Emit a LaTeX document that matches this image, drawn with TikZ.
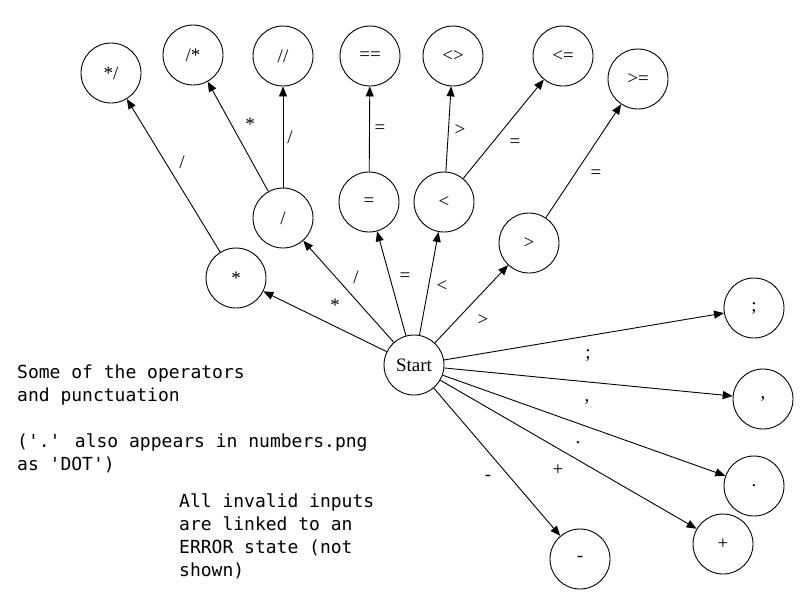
\documentclass[tikz,border=0pt]{standalone}
\usepackage{fontspec}
\setmainfont{Liberation Serif}
\newfontfamily\monofnt{DejaVu Sans Mono}
\usetikzlibrary{arrows.meta}
\begin{document}
\begin{tikzpicture}[x=1pt,y=-1pt,
  state/.style={circle,draw,line width=0.9pt,minimum size=60pt,inner sep=0pt,font=\fontsize{19}{19}\selectfont},
  edge/.style={draw,line width=0.9pt,-{Triangle[length=10pt,width=8pt]}},
  lbl/.style={font=\fontsize{19}{19}\selectfont,inner sep=0pt},
  note/.style={font=\monofnt\fontsize{18}{23}\selectfont,anchor=base west,inner sep=0pt}]
\useasboundingbox (0,0) rectangle (800,600);
% states
\node[state] (start) at (414,365) {Start};
\node[state] (star) at (236,278) {*};
\node[state] (slash) at (283,218) {/};
\node[state] (eq) at (369,202) {=};
\node[state] (lt) at (444,202) {<};
\node[state] (gt) at (529,243) {>};
\node[state] (cmtend) at (111,73) {*/};
\node[state] (cmtbeg) at (193,55) {/*};
\node[state] (dslash) at (283,56) {//};
\node[state] (eqeq) at (370,56) {==};
\node[state] (ne) at (453,56) {<>};
\node[state] (le) at (563,56) {<=};
\node[state] (ge) at (638,79) {>=};
\node[state] (semi) at (754,308) {;};
\node[state] (comma) at (763,399) {,};
\node[state] (dot) at (754,486) {.};
\node[state] (plus) at (723,544) {+};
\node[state] (minus) at (580,559) {-};
% edges
\draw[edge] (start) -- (star);
\draw[edge] (start) -- (slash);
\draw[edge] (start) -- (eq);
\draw[edge] (start) -- (lt);
\draw[edge] (start) -- (gt);
\draw[edge] (start) -- (semi);
\draw[edge] (start) -- (comma);
\draw[edge] (start) -- (dot);
\draw[edge] (start) -- (plus);
\draw[edge] (start) -- (minus);
\draw[edge] (star) -- (cmtend);
\draw[edge] (slash) -- (cmtbeg);
\draw[edge] (slash) -- (dslash);
\draw[edge] (eq) -- (eqeq);
\draw[edge] (lt) -- (ne);
\draw[edge] (lt) -- (le);
\draw[edge] (gt) -- (ge);
% edge labels
\node[lbl] (l1) at (182,162) {/};
\node[lbl] (l2) at (250,124) {*};
\node[lbl] (l3) at (290,137) {/};
\node[lbl] (l4) at (380,129) {=};
\node[lbl] (l5) at (460,130) {>};
\node[lbl] (l6) at (515,143) {=};
\node[lbl] (l7) at (596,174) {=};
\node[lbl] (l8) at (335,305) {*};
\node[lbl] (l9) at (356,277) {/};
\node[lbl] (l10) at (405,277) {=};
\node[lbl] (l11) at (442,286) {<};
\node[lbl] (l12) at (483,320) {>};
\node[lbl] (l13) at (588,355) {;};
\node[lbl] (l14) at (587,402) {,};
\node[lbl] (l15) at (578,443) {.};
\node[lbl] (l16) at (558,470) {+};
\node[lbl] (l17) at (488,478) {-};
% notes
\node[note] (n1a) at (17,378) {Some of the operators};
\node[note] (n1b) at (17,401) {and punctuation};
\node[note] (n1c) at (17,447) {('.' also appears in numbers.png};
\node[note] (n1d) at (17,470) {as 'DOT')};
\node[note] (n2a) at (179,507) {All invalid inputs};
\node[note] (n2b) at (179,530) {are linked to an};
\node[note] (n2c) at (179,553) {ERROR state (not};
\node[note] (n2d) at (179,576) {shown)};
\end{tikzpicture}
\end{document}
